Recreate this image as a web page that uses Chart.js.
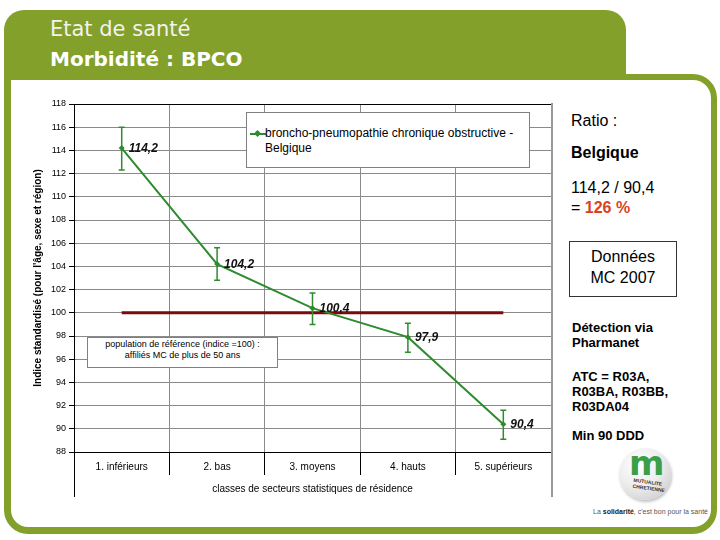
<!DOCTYPE html>
<html>
<head>
<meta charset="utf-8">
<script src="https://cdn.jsdelivr.net/npm/chart.js@4.4.0/dist/chart.umd.min.js"></script>
<style>
  body { margin: 0; width: 720px; height: 540px; background: #fff; position: relative; overflow: hidden;
         font-family: "Liberation Sans", Arial, sans-serif; color: #000; }
  .abs { position: absolute; white-space: nowrap; }
  #frame { position: absolute; left: 4px; top: 74px; width: 713px; height: 460px; box-sizing: border-box;
           border: 6px solid #83a02a; border-left-width: 7px; border-bottom-width: 7px;
           border-radius: 0 24px 24px 24px; }
  #header { position: absolute; left: 4px; top: 10px; width: 622px; height: 68px; background: #83a02a;
            border-radius: 20px 20px 0 0; }
  .h1 { font-family: "DejaVu Sans", sans-serif; font-size: 21px; line-height: 21px; color: #f2f2f2; }
  .h2 { font-family: "DejaVu Sans", sans-serif; font-size: 20px; line-height: 20px; color: #fff; font-weight: bold; }
  .p16 { font-size: 16px; line-height: 16px; }
  .p13 { font-size: 13px; line-height: 15px; font-weight: bold; }
  #legendBox { position: absolute; left: 246px; top: 112px; width: 284px; height: 56px; box-sizing: border-box;
               border: 1px solid #808080; background: #fff; font-size: 12px; line-height: 15px; }
  #noteBox { position: absolute; left: 87px; top: 337px; width: 191px; height: 31px; box-sizing: border-box;
             border: 1px solid #808080; background: #fff; font-size: 9px; line-height: 11px; text-align: center;
             padding-top: 1px; }
  #logo { position: absolute; left: 619px; top: 448px; width: 52px; height: 52px; border-radius: 50%;
          background: radial-gradient(circle at 38% 32%, #ffffff 0%, #eeeeee 45%, #cfcfcf 85%, #b8b8b8 100%);
          box-shadow: 1px 2px 3px rgba(0,0,0,0.25); overflow: hidden; }
</style>
</head>
<body>
<div id="frame"></div>
<div id="header"></div>
<div class="abs h1" style="left:50px;top:19px;">Etat de santé</div>
<div class="abs h2" style="left:50px;top:49px;">Morbidité : BPCO</div>

<canvas id="bpcoChart" width="535" height="410" style="position:absolute;left:20px;top:95px;"></canvas>

<div id="legendBox">
  <div class="abs" style="left:3px;top:20px;width:16px;height:2px;background:#2e8b2e;"></div>
  <div class="abs" style="left:8px;top:18px;width:5px;height:5px;background:#2e8b2e;transform:rotate(45deg);"></div>
  <div class="abs" id="legendText" style="left:18px;top:13px;"></div>
</div>
<div id="noteBox">population de référence (indice =100) :<br>affiliés MC de plus de 50 ans</div>

<div class="abs p16" style="left:571px;top:113px;">Ratio :</div>
<div class="abs p16" style="left:571px;top:145px;font-weight:bold;">Belgique</div>
<div class="abs p16" style="left:571px;top:180px;">114,2 / 90,4</div>
<div class="abs p16" style="left:571px;top:200px;">= <b style="color:#d8431f;">126 %</b></div>
<div class="abs" style="left:569px;top:241px;width:108px;height:56px;box-sizing:border-box;border:1px solid #333;"></div>
<div class="abs p16" style="left:569px;top:249px;width:108px;text-align:center;">Données</div>
<div class="abs p16" style="left:569px;top:270px;width:108px;text-align:center;">MC 2007</div>

<div class="abs p13" style="left:572px;top:320px;">Détection via<br>Pharmanet</div>
<div class="abs p13" style="left:572px;top:369px;">ATC = R03A,<br>R03BA, R03BB,<br>R03DA04</div>
<div class="abs p13" style="left:572px;top:428px;">Min 90 DDD</div>

<div id="logo">
  <div class="abs" style="left:10px;top:-2px;font-family:'DejaVu Sans';font-weight:bold;font-size:34px;line-height:34px;color:#3b9e48;letter-spacing:-2px;">m</div>
  <div class="abs" style="left:14px;top:31px;font-size:5px;line-height:6px;font-weight:bold;color:#333;transform:rotate(8deg);">MUTUALITE<br>CHRETIENNE</div>
</div>
<div class="abs" style="left:593px;top:508px;font-size:7px;line-height:8px;color:#555;">La <b style="color:#222;">solidarité</b>, c'est bon pour la santé</div>

<script>
"use strict";

var categories = ['1. inférieurs', '2. bas', '3. moyens', '4. hauts', '5. supérieurs'];
var bpcoValues = [114.2, 104.2, 100.4, 97.9, 90.4];
var errorLow = [112.3, 102.8, 99.0, 96.6, 89.1];
var errorHigh = [116.0, 105.6, 101.7, 99.1, 91.6];
var referenceValues = [100, 100, 100, 100, 100];
var yMin = 88, yMax = 118, yStep = 2;
var seriesLabel = 'broncho-pneumopathie chronique obstructive - Belgique';

document.getElementById('legendText').innerHTML = 'broncho-pneumopathie chronique obstructive -<br>Belgique';

var green = '#2e8b2e';
var fontFamily = '"Liberation Sans", Arial, sans-serif';

function formatValue(v) {
    return v.toFixed(1).replace('.', ',');
}

// error bars + value labels on the BPCO series
var errorBarPlugin = {
    id: 'errorBars',
    afterDatasetsDraw: function (chart) {
        var ctx = chart.ctx;
        var yScale = chart.scales.y;
        var meta = chart.getDatasetMeta(0);
        ctx.save();
        ctx.strokeStyle = green;
        ctx.lineWidth = 1.5;
        meta.data.forEach(function (point, i) {
            var top = yScale.getPixelForValue(errorHigh[i]);
            var bottom = yScale.getPixelForValue(errorLow[i]);
            ctx.beginPath();
            ctx.moveTo(point.x, top);
            ctx.lineTo(point.x, bottom);
            ctx.moveTo(point.x - 3, top);
            ctx.lineTo(point.x + 3, top);
            ctx.moveTo(point.x - 3, bottom);
            ctx.lineTo(point.x + 3, bottom);
            ctx.stroke();
        });
        ctx.fillStyle = '#111';
        ctx.font = 'italic bold 12px ' + fontFamily;
        ctx.textBaseline = 'middle';
        ctx.textAlign = 'left';
        meta.data.forEach(function (point, i) {
            ctx.fillText(formatValue(bpcoValues[i]), point.x + 7, point.y + 1);
        });
        ctx.restore();
    }
};

// category-table lines below the plot
var axisFramePlugin = {
    id: 'axisFrame',
    afterDraw: function (chart) {
        var ctx = chart.ctx;
        var area = chart.chartArea;
        ctx.save();
        ctx.strokeStyle = '#000';
        ctx.lineWidth = 1;
        ctx.beginPath();
        ctx.moveTo(area.left + 0.5, area.bottom);
        ctx.lineTo(area.left + 0.5, area.bottom + 45);
        ctx.stroke();
        ctx.strokeStyle = '#9a9a9a';
        ctx.lineWidth = 2;
        ctx.beginPath();
        ctx.moveTo(area.right + 1, area.top - 1);
        ctx.lineTo(area.right + 1, area.bottom + 45);
        ctx.stroke();
        ctx.restore();
    }
};

const context = document.getElementById('bpcoChart');
const bpcoChart = new Chart(context, {
    type: 'line',
    data: {
        labels: categories,
        datasets: [{
            label: seriesLabel,
            data: bpcoValues,
            borderColor: green,
            backgroundColor: green,
            borderWidth: 2,
            pointStyle: 'rectRot',
            pointRadius: 3,
            pointBorderWidth: 0,
            tension: 0,
            order: 0
        }, {
            label: 'population de référence',
            data: referenceValues,
            borderColor: '#7b0a0a',
            borderWidth: 3,
            pointRadius: 0,
            order: 1
        }]
    },
    options: {
        responsive: false,
        animation: false,
        layout: { padding: { left: 0, top: 9, right: 3, bottom: 0 } },
        plugins: {
            legend: { display: false },
            tooltip: { enabled: false }
        },
        scales: {
            x: {
                offset: true,
                grid: {
                    offset: true,
                    color: '#8a8a8a',
                    tickColor: '#000',
                    tickLength: 23
                },
                border: { color: '#000' },
                ticks: {
                    padding: -14,
                    color: '#000',
                    font: { family: fontFamily, size: 10 }
                },
                title: {
                    display: true,
                    text: 'classes de secteurs statistiques de résidence',
                    color: '#000',
                    font: { family: fontFamily, size: 10 },
                    padding: { top: 0, bottom: 10 }
                },
                afterFit: function (scale) { scale.height = 53; }
            },
            y: {
                min: yMin,
                max: yMax,
                grid: {
                    color: function (c) { return (c.tick && c.tick.value === yMax) ? '#000' : '#8a8a8a'; },
                    tickColor: '#000',
                    tickLength: 5
                },
                border: { color: '#000' },
                ticks: {
                    stepSize: yStep,
                    padding: 3,
                    color: '#000',
                    font: { family: fontFamily, size: 9 }
                },
                title: {
                    display: true,
                    text: "Indice standardisé (pour l'âge, sexe et région)",
                    color: '#000',
                    font: { family: fontFamily, size: 10, weight: 'bold' },
                    padding: { top: 12, bottom: 0 }
                },
                afterFit: function (scale) { scale.width = 54; }
            }
        }
    },
    plugins: [errorBarPlugin, axisFramePlugin]
});
</script>
</body>
</html>
